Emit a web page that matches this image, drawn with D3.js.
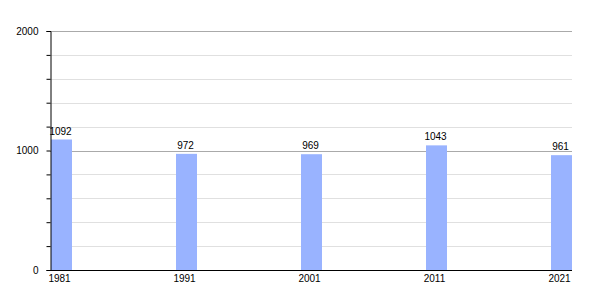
<!doctype html>
<html>
<head>
<meta charset="utf-8">
<script src="https://d3js.org/d3.v7.min.js"></script>
<style>
  body { margin: 0; background: #fff; }
  text { font-family: "Liberation Sans", Arial, sans-serif; font-size: 10px; fill: #000; }
</style>
</head>
<body>
<script>
// data
var years = [1981, 1991, 2001, 2011, 2021];
var population = [1092, 972, 969, 1043, 961];
var yTicks = [0, 200, 400, 600, 800, 1000, 1200, 1400, 1600, 1800, 2000];
var yLabels = [0, 1000, 2000];

var width = 600, height = 300,
    axisX = 50, plotRight = 572,
    barWidth = 21;

var svg = d3.select("body").append("svg")
    .attr("width", width)
    .attr("height", height);

var x = d3.scaleLinear().domain([1981, 2021]).range([axisX + 1, 551]);
var y = d3.scaleLinear().domain([0, 2000]).range([270, 31]);

// grid lines
svg.append("g").selectAll("line")
    .data(yTicks.filter(d => d > 0))
    .enter().append("line")
    .attr("x1", axisX).attr("x2", plotRight)
    .attr("y1", d => Math.round(y(d)) + 0.5)
    .attr("y2", d => Math.round(y(d)) + 0.5)
    .attr("stroke", d => d % 1000 === 0 ? "#aaaaaa" : "#e0e0e0")
    .attr("stroke-width", 1);

// bars
svg.append("g").selectAll("rect")
    .data(years)
    .enter().append("rect")
    .attr("x", d => x(d))
    .attr("y", (d, i) => y(population[i]))
    .attr("width", barWidth)
    .attr("height", (d, i) => y(0) - y(population[i]))
    .attr("fill", "#99b3ff");

// value labels
svg.append("g").selectAll("text")
    .data(years)
    .enter().append("text")
    .attr("x", d => x(d) + barWidth / 2 - 1)
    .attr("y", (d, i) => y(population[i]) - 5)
    .attr("text-anchor", "middle")
    .text((d, i) => population[i]);

// y axis
var yAxis = d3.axisLeft(y)
    .tickValues(yTicks)
    .tickSize(4)
    .tickPadding(8)
    .tickFormat(d => yLabels.indexOf(d) >= 0 ? d : "");

var gy = svg.append("g")
    .attr("transform", "translate(" + (axisX + 0.5) + ",0)")
    .call(yAxis);
gy.select(".domain").attr("stroke", "#000");
gy.selectAll(".tick line").attr("stroke", "#000");
gy.selectAll("text").attr("font-size", 10).attr("font-family", null);

// x axis baseline
svg.append("line")
    .attr("x1", axisX).attr("x2", plotRight)
    .attr("y1", y(0) + 0.5).attr("y2", y(0) + 0.5)
    .attr("stroke", "#000");

// year labels
svg.append("g").selectAll("text")
    .data(years)
    .enter().append("text")
    .attr("x", d => x(d) + barWidth / 2 - 2)
    .attr("y", 282)
    .attr("text-anchor", "middle")
    .text(d => d);
</script>
</body>
</html>
